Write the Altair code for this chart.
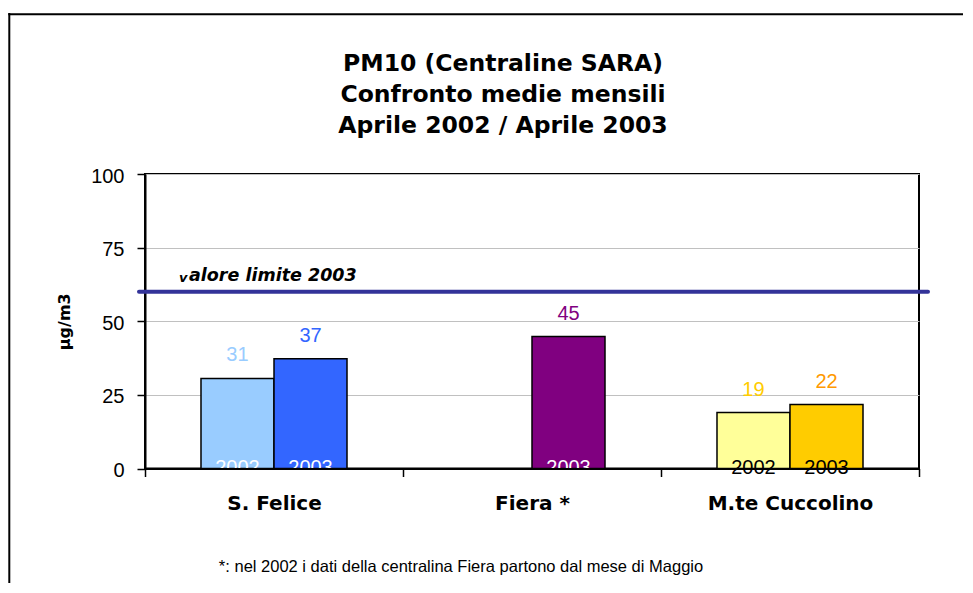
import altair as alt
import pandas as pd

# ---- data ----
categories = ["S. Felice", "Fiera *", "M.te Cuccolino"]
stations = ["S. Felice", "S. Felice", "Fiera *", "M.te Cuccolino", "M.te Cuccolino"]
years = ["2002", "2003", "2003", "2002", "2003"]
values = [30.6, 37.3, 44.8, 19.0, 21.7]
limit_value = [60]
limit_texts = ["v", "alore limite 2003"]
title_lines = ["PM10 (Centraline SARA)", "Confronto medie mensili", "Aprile 2002 / Aprile 2003"]
footnote = ["*: nel 2002 i dati della centralina Fiera partono dal mese di Maggio"]
y_ticks = [0, 25, 50, 75, 100]

# ---- styles ----
keys = [f"{s} {y}" for s, y in zip(stations, years)]
bar_colors = ["#99CCFF", "#3366FF", "#800080", "#FFFF99", "#FFCC00"]
value_label_colors = ["#99CCFF", "#3366FF", "#800080", "#FFCC00", "#FF9900"]
year_label_colors = ["#FFFFFF", "#FFFFFF", "#FFFFFF", "#000000", "#000000"]

df = pd.DataFrame({"station": stations, "year": years, "value": values, "key": keys})
lim_df = pd.DataFrame({"value": limit_value})
one = pd.DataFrame({"note": footnote})

W, H = 774, 294.5

x_enc = alt.X(
    "station:N",
    sort=categories,
    scale=alt.Scale(paddingInner=0, paddingOuter=0),
    axis=alt.Axis(
        title=None, tickBand="extent", labelAngle=0,
        labelFont="DejaVu Sans", labelFontWeight="bold", labelFontSize=20, labelColor="black",
        tickColor="black", tickSize=8, tickWidth=1.5, domainColor="black", domainWidth=2,
        labelPadding=17, zindex=1,
    ),
)
xoff_enc = alt.XOffset(
    "year:N",
    scale=alt.Scale(domain=["2002", "2003"], paddingInner=0, paddingOuter=0.767),
)
y_enc = alt.Y(
    "value:Q",
    scale=alt.Scale(domain=[0, 100], nice=False),
    axis=alt.Axis(
        values=y_ticks, title="µg/m3",
        titleFont="DejaVu Sans", titleFontSize=16, titleFontWeight="bold", titleColor="black",
        titlePadding=18,
        labelFont="Liberation Sans", labelFontSize=20, labelColor="black", labelPadding=13,
        labelOffset=2,
        tickColor="black", tickSize=8, tickWidth=1.5, domainColor="black", domainWidth=2,
        gridColor="#C0C0C0", gridWidth=1,
    ),
)

base = alt.Chart(df)

bars = base.mark_bar(stroke="black", strokeWidth=1.5).encode(
    x=x_enc, xOffset=xoff_enc, y=y_enc,
    color=alt.Color("key:N", scale=alt.Scale(domain=keys, range=bar_colors), legend=None),
)

value_labels = base.mark_text(
    baseline="alphabetic", dy=-17, font="Liberation Sans", fontSize=20
).encode(
    x=x_enc, xOffset=xoff_enc, y=y_enc,
    text=alt.Text("value:Q", format=".0f"),
    color=alt.Color("key:N", scale=alt.Scale(domain=keys, range=value_label_colors), legend=None),
)

year_labels = base.mark_text(
    baseline="alphabetic", dy=5, font="Liberation Sans", fontSize=20
).encode(
    x=x_enc, xOffset=xoff_enc, y=alt.datum(0),
    text="year:N",
    color=alt.Color("key:N", scale=alt.Scale(domain=keys, range=year_label_colors), legend=None),
)

limit_rule = alt.Chart(lim_df).mark_rule(color="#333399", strokeWidth=4, strokeCap="round").encode(
    y="value:Q", x=alt.value(-6), x2=alt.value(W + 9)
)

limit_v = alt.Chart(lim_df).mark_text(
    align="left", baseline="alphabetic", dy=-10, font="DejaVu Sans", fontWeight="bold",
    fontStyle="italic", fontSize=13, color="black", text=limit_texts[0],
).encode(y="value:Q", x=alt.value(34))

limit_label = alt.Chart(lim_df).mark_text(
    align="left", baseline="alphabetic", dy=-11, font="DejaVu Sans", fontWeight="bold",
    fontStyle="italic", fontSize=17.5, color="black", text=limit_texts[1],
).encode(y="value:Q", x=alt.value(44))

note = alt.Chart(one).mark_text(
    align="center", baseline="alphabetic", font="Liberation Sans", fontSize=16.5, color="black"
).encode(text="note:N", x=alt.value(316), y=alt.value(398))

frame_left = alt.Chart(one).mark_rule(color="black", strokeWidth=2).encode(
    x=alt.value(-135.7), y=alt.value(-161), y2=alt.value(H + 200)
)
frame_top = alt.Chart(one).mark_rule(color="black", strokeWidth=2).encode(
    y=alt.value(-159.7), x=alt.value(-136.7), x2=alt.value(W + 100)
)

chart = alt.layer(
    bars, value_labels, year_labels, limit_rule, limit_v, limit_label, note, frame_left, frame_top
).resolve_scale(color="independent").properties(
    width=W, height=H,
    title=alt.TitleParams(
        text=title_lines, font="DejaVu Sans", fontSize=23.5, fontWeight="bold", color="black",
        lineHeight=31, anchor="middle", dx=-29, offset=-125,
    ),
    autosize=alt.AutoSizeParams(type="none"),
    padding={"left": 137, "top": 166, "right": 44, "bottom": 114},
    background="white",
).configure_view(stroke="black", strokeWidth=2)

chart.save("out.html", embed_options={"renderer": "svg", "actions": False})
